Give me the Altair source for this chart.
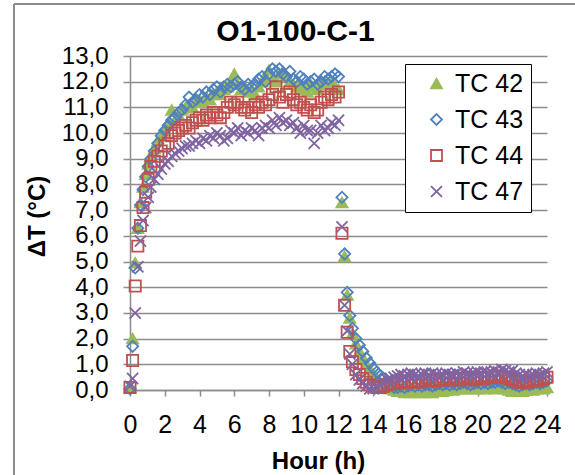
import altair as alt
import pandas as pd

series_names = ["TC 42", "TC 43", "TC 44", "TC 47"]
series_stroke = ["#9BBB59", "#4F81BD", "#C0504D", "#8064A2"]
series_fill = ["#9BBB59", "transparent", "transparent", "transparent"]
series_shape = ["triangle-up", "diamond", "square", "M-1,-1L1,1M-1,1L1,-1"]

hours = ([0.0, 0.15, 0.3, 0.45, 0.6, 0.75, 0.9, 1.05]
         + [round(1.2 + 0.2 * i, 2) for i in range(55)]
         + [12.2, 12.35, 12.5, 12.65, 12.8, 13.0]
         + [round(13.2 + 0.2 * i, 2) for i in range(55)])

tc42 = ([0.1, 2.0, 4.95, 6.3, 7.3, 7.9, 8.4, 8.8]
        + [9.1, 9.4, 9.7, 9.9, 10.1, 10.4, 10.9, 10.5, 10.7, 10.9,
           11.0, 11.1, 11.0, 11.2, 11.3, 11.2, 11.4, 11.3, 11.5, 11.6,
           11.5, 11.7, 11.8, 12.0, 12.3, 11.9, 11.7, 11.8, 11.6, 11.7,
           11.5, 11.8, 12.0, 12.2, 12.45, 12.1, 12.0, 12.3, 12.4, 12.2,
           12.0, 11.9, 11.8, 11.7, 11.8, 11.6, 11.9, 11.8, 11.7, 11.9,
           12.0, 11.9, 12.0, 11.8, 11.7]
        + [7.3, 5.2, 3.7, 2.8, 2.2, 1.8]
        + [1.5, 1.25, 1.0, 0.8, 0.6, 0.45, 0.3, 0.2, 0.1, 0.05,
           0.0, -0.05, -0.05, -0.1, -0.05, -0.1, -0.05, -0.1, -0.05, -0.1,
           -0.05, -0.1, -0.05, 0.0, -0.05, 0.0, 0.05, 0.0, 0.05, 0.1,
           0.05, 0.1, 0.05, 0.1, 0.05, 0.1, 0.05, 0.1, 0.1, 0.05,
           0.15, 0.1, 0.05, 0.0, -0.05, -0.05, 0.0, -0.05, 0.0, 0.05,
           0.0, 0.05, 0.1, 0.05, 0.1])

tc43 = ([0.05, 1.7, 4.75, 6.3, 7.2, 7.8, 8.3, 8.7]
        + [9.0, 9.3, 9.6, 9.9, 10.1, 10.3, 10.5, 10.6, 10.8, 10.9,
           11.1, 11.4, 11.2, 11.3, 11.5, 11.4, 11.6, 11.5, 11.7, 11.8,
           11.6, 11.8, 11.9, 11.8, 11.9, 12.0, 11.8, 11.7, 11.9, 11.8,
           11.9, 12.1, 12.2, 12.0, 12.3, 12.5, 12.4, 12.5, 12.3, 12.2,
           12.4, 12.1, 12.0, 12.2, 12.1, 11.9, 12.0, 12.1, 11.9, 12.0,
           12.2, 12.1, 12.2, 12.3, 12.2]
        + [7.5, 5.3, 3.8, 2.9, 2.4, 2.0]
        + [1.75, 1.5, 1.25, 1.05, 0.85, 0.7, 0.55, 0.45, 0.3, 0.2,
           0.1, 0.1, 0.15, 0.1, 0.15, 0.2, 0.15, 0.2, 0.15, 0.2,
           0.2, 0.15, 0.2, 0.25, 0.2, 0.25, 0.2, 0.25, 0.2, 0.25,
           0.3, 0.25, 0.2, 0.25, 0.3, 0.25, 0.3, 0.25, 0.3, 0.3,
           0.35, 0.3, 0.25, 0.3, 0.25, 0.2, 0.15, 0.2, 0.25, 0.2,
           0.25, 0.3, 0.25, 0.3, 0.35])

tc44 = ([0.1, 1.15, 4.05, 5.6, 6.4, 7.1, 7.7, 8.2]
        + [8.7, 8.9, 9.1, 9.3, 9.5, 9.6, 9.9, 10.0, 10.1, 10.2,
           10.3, 10.2, 10.4, 10.5, 10.6, 10.5, 10.7, 10.6, 10.8, 10.7,
           10.6, 10.8, 11.0, 11.2, 11.1, 11.2, 11.0, 10.9, 11.0, 10.8,
           11.1, 11.0, 11.2, 11.1, 11.3, 11.5, 11.8, 11.4, 11.2, 11.5,
           11.6, 11.3, 11.1, 11.2, 11.0, 10.9, 11.1, 10.8, 10.9, 11.2,
           11.4, 11.3, 11.5, 11.4, 11.6]
        + [6.1, 3.3, 2.25, 1.5, 1.1, 0.8]
        + [0.6, 0.45, 0.3, 0.2, 0.15, 0.1, 0.1, 0.15, 0.2, 0.25,
           0.25, 0.3, 0.3, 0.35, 0.3, 0.35, 0.35, 0.3, 0.35, 0.4,
           0.35, 0.4, 0.35, 0.4, 0.4, 0.45, 0.4, 0.4, 0.45, 0.4,
           0.45, 0.5, 0.45, 0.4, 0.45, 0.5, 0.45, 0.5, 0.5, 0.55,
           0.5, 0.55, 0.5, 0.45, 0.4, 0.35, 0.3, 0.35, 0.3, 0.35,
           0.4, 0.35, 0.4, 0.45, 0.5])

tc47 = ([0.15, 0.45, 3.0, 4.8, 5.8, 6.6, 7.1, 7.5]
        + [7.9, 8.2, 8.4, 8.6, 8.8, 8.9, 9.1, 9.2, 9.3, 9.4,
           9.5, 9.5, 9.6, 9.7, 9.6, 9.8, 9.7, 9.9, 9.8, 10.0,
           9.9, 9.7, 9.8, 10.1, 10.0, 10.2, 9.9, 10.1, 10.0, 10.2,
           10.1, 9.9, 10.2, 10.3, 10.2, 10.5, 10.3, 10.6, 10.4, 10.5,
           10.3, 10.4, 10.2, 10.0, 10.3, 10.1, 10.1, 9.6, 10.0, 10.3,
           10.1, 10.2, 10.4, 10.3, 10.5]
        + [6.35, 3.3, 2.3, 1.4, 1.0, 0.6]
        + [0.4, 0.25, 0.15, 0.05, 0.05, 0.1, 0.2, 0.3, 0.4, 0.45,
           0.5, 0.55, 0.6, 0.55, 0.6, 0.65, 0.6, 0.55, 0.6, 0.65,
           0.6, 0.65, 0.6, 0.55, 0.6, 0.65, 0.6, 0.6, 0.65, 0.6,
           0.7, 0.65, 0.6, 0.65, 0.7, 0.65, 0.7, 0.65, 0.7, 0.75,
           0.7, 0.8, 0.75, 0.7, 0.75, 0.65, 0.6, 0.55, 0.6, 0.55,
           0.6, 0.65, 0.6, 0.65, 0.7])

all_values = [tc42, tc43, tc44, tc47]
rows = []
for name, vals in zip(series_names, all_values):
    n = min(len(hours), len(vals))
    for h, v in zip(hours[:n], vals[:n]):
        rows.append({"hour": h, "dT": v, "series": name})
df = pd.DataFrame(rows)

FONT = "Liberation Sans"
GRID = "#8c8c8c"

points = alt.Chart(df).mark_point(opacity=1, strokeWidth=1.8, size=125).encode(
    x=alt.X("hour:Q", scale=alt.Scale(domain=[0, 24], nice=False),
            axis=alt.Axis(values=list(range(0, 25, 2)), title="Hour (h)",
                          grid=False, labelFontSize=25, labelPadding=16,
                          labelFlush=False, labelOverlap=False,
                          tickSize=6, tickColor=GRID, tickWidth=1.5,
                          domainColor=GRID, domainWidth=1.5,
                          titleFontSize=24, titleFontWeight="bold",
                          titleX=188, titleY=71, titleBaseline="middle",
                          titleAlign="center")),
    y=alt.Y("dT:Q", scale=alt.Scale(domain=[0, 13], nice=False),
            axis=alt.Axis(values=list(range(0, 14)), title="ΔT (°C)",
                          labelExpr="replace(format(datum.value, '.1f'), '.', ',')",
                          grid=True, gridColor=GRID, gridWidth=1.5,
                          labelFontSize=24, labelPadding=15,
                          tickSize=7, tickColor=GRID, tickWidth=1.5,
                          domainColor=GRID, domainWidth=1.5,
                          titleFontSize=24, titleFontWeight="bold",
                          titleX=-93, titleY=160, titleBaseline="middle",
                          titleAlign="center", titleAngle=-90)),
    stroke=alt.Stroke("series:N", scale=alt.Scale(domain=series_names, range=series_stroke),
                      legend=alt.Legend(title=None)),
    fill=alt.Fill("series:N", scale=alt.Scale(domain=series_names, range=series_fill),
                  legend=alt.Legend(title=None)),
    shape=alt.Shape("series:N", scale=alt.Scale(domain=series_names, range=series_shape),
                    legend=alt.Legend(title=None)),
    order=alt.Order("order_idx:Q"),
).transform_calculate(
    order_idx="indexof(['TC 42','TC 43','TC 44','TC 47'], datum.series)"
)

frame_df = pd.DataFrame({"k": [0]})
frame_left = alt.Chart(frame_df).mark_rule(color=GRID, strokeWidth=2).encode(
    x=alt.value(-116), y=alt.value(-52), y2=alt.value(430))
frame_top = alt.Chart(frame_df).mark_rule(color=GRID, strokeWidth=2).encode(
    x=alt.value(-116), x2=alt.value(460), y=alt.value(-52))

chart = alt.layer(frame_left, frame_top, points).properties(
    width=417, height=334,
    autosize=alt.AutoSizeParams(type="none"),
    padding={"left": 130, "top": 56, "right": 28, "bottom": 85},
    title=alt.TitleParams("O1-100-C-1", fontSize=30, fontWeight="bold", font=FONT,
                          color="black", anchor="middle", dx=-43, dy=68, frame="group",
                          offset=0, baseline="alphabetic"),
).configure(
    font=FONT,
).configure_view(stroke=None).configure_axis(
    labelFont=FONT, titleFont=FONT, labelColor="black", titleColor="black",
).configure_legend(
    orient="none", legendX=275, legendY=8, padding=7,
    strokeColor="black", fillColor="white",
    labelFont=FONT, labelFontSize=25, labelColor="black",
    symbolSize=120, symbolStrokeWidth=1.8, rowPadding=10,
    labelOffset=6, symbolOffset=12,
)

chart.save("out.html", embed_options={"renderer": "svg", "actions": False})
